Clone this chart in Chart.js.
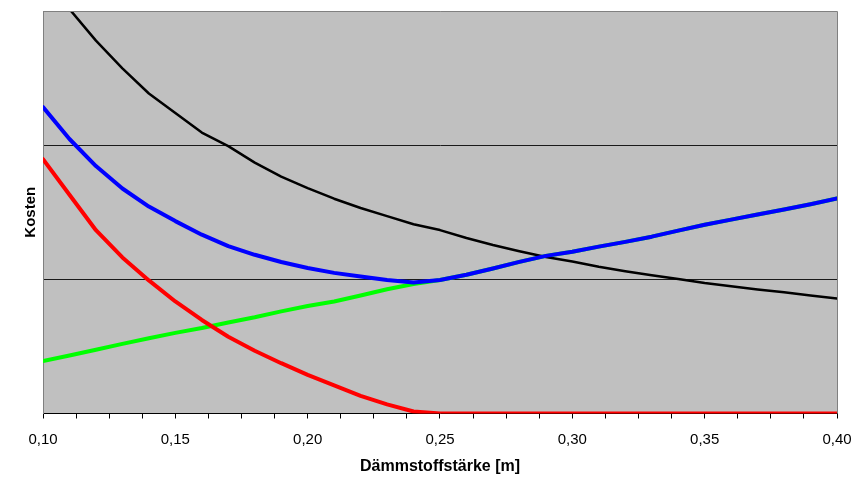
<!DOCTYPE html>
<html>
<head>
<meta charset="utf-8">
<script src="https://cdn.jsdelivr.net/npm/chart.js@4"></script>
<style>
  html, body { margin: 0; padding: 0; background: #fff; }
  #wrap { width: 864px; height: 480px; }
</style>
</head>
<body>
<div id="wrap"><canvas id="chart" width="864" height="480"></canvas></div>
<script>
// Dämmstoffstärke [m]
const xValues = [0.10, 0.11, 0.12, 0.13, 0.14, 0.15, 0.16, 0.17, 0.18, 0.19, 0.20,
  0.21, 0.22, 0.23, 0.24, 0.25, 0.26, 0.27, 0.28, 0.29, 0.30,
  0.31, 0.32, 0.33, 0.34, 0.35, 0.36, 0.37, 0.38, 0.39, 0.40];

const blueCost = [2.284, 2.046, 1.844, 1.677, 1.542, 1.434, 1.333, 1.248, 1.183, 1.129, 1.084,
  1.048, 1.021, 0.995, 0.976, 0.995, 1.034, 1.081, 1.130, 1.175, 1.205,
  1.244, 1.279, 1.318, 1.363, 1.407, 1.445, 1.483, 1.520, 1.560, 1.602];

const blackCost = [3.30, 3.014, 2.779, 2.573, 2.385, 2.239, 2.094, 1.993, 1.870, 1.766, 1.680,
  1.601, 1.532, 1.471, 1.411, 1.367, 1.308, 1.256, 1.209, 1.166, 1.133,
  1.094, 1.061, 1.031, 1.002, 0.972, 0.949, 0.925, 0.903, 0.880, 0.857];

const redCost = [1.896, 1.630, 1.366, 1.163, 0.992, 0.835, 0.697, 0.572, 0.468, 0.375, 0.288,
  0.210, 0.131, 0.068, 0.015, 0, 0, 0, 0, 0, 0,
  0, 0, 0, 0, 0, 0, 0, 0, 0, 0];

const greenCost = [0.391, 0.432, 0.475, 0.519, 0.561, 0.601, 0.637, 0.678, 0.717, 0.761, 0.801,
  0.835, 0.879, 0.926, 0.965, 0.995, 1.034, 1.081, 1.130, 1.175, 1.205,
  1.244, 1.279, 1.318, 1.363, 1.407, 1.445, 1.483, 1.520, 1.560, 1.602];

const xTickLabels = ['0,10', '0,15', '0,20', '0,25', '0,30', '0,35', '0,40'];
const xMinorStep = 0.0125;

function pts(ys) {
  return xValues.map((x, i) => ({ x: x, y: ys[i] }));
}

// grauer Plotbereich + Rahmen oben/rechts
const plotArea = {
  id: 'plotArea',
  beforeDraw(chart) {
    const { ctx, chartArea: a } = chart;
    ctx.save();
    ctx.fillStyle = '#C0C0C0';
    ctx.fillRect(a.left, a.top, a.right - a.left, a.bottom - a.top);
    ctx.restore();
  },
  afterDraw(chart) {
    const { ctx, chartArea: a } = chart;
    ctx.save();
    ctx.strokeStyle = '#808080';
    ctx.lineWidth = 1;
    ctx.beginPath();
    ctx.moveTo(a.left, a.top + 0.5);
    ctx.lineTo(a.right + 0.5, a.top + 0.5);
    ctx.lineTo(a.right + 0.5, a.bottom);
    ctx.stroke();
    ctx.restore();
  }
};

const line = (data, color, width) => ({
  data: pts(data),
  borderColor: color,
  borderWidth: width,
  pointRadius: 0,
  tension: 0,
  borderCapStyle: 'round',
  borderJoinStyle: 'round',
  fill: false
});

new Chart(document.getElementById('chart'), {
  type: 'line',
  data: {
    datasets: [
      line(blueCost, '#0000FF', 4),
      Object.assign(line(blackCost, '#000000', 2.5), { clip: 0 }),
      line(redCost, '#FF0000', 4),
      line(greenCost, '#00FF00', 4)
    ]
  },
  options: {
    responsive: false,
    animation: false,
    layout: { padding: { top: 11, right: 27, bottom: 0, left: 0 } },
    plugins: { legend: { display: false }, tooltip: { enabled: false } },
    scales: {
      x: {
        type: 'linear',
        min: 0.10,
        max: 0.40,
        afterFit(scale) { scale.height = 66.5; },
        afterBuildTicks(scale) {
          const t = [];
          for (let i = 0; i <= 24; i++) t.push({ value: 0.10 + i * xMinorStep });
          scale.ticks = t;
        },
        border: { display: true, color: '#000000', width: 1 },
        grid: {
          drawOnChartArea: false,
          drawTicks: true,
          tickLength: 5,
          tickColor: '#000000'
        },
        ticks: {
          autoSkip: false,
          maxRotation: 0,
          padding: 12,
          color: '#000000',
          font: { family: 'Liberation Sans, Arial, sans-serif', size: 15 },
          callback(v, i) { return i % 4 === 0 ? xTickLabels[i / 4] : ''; }
        },
        title: {
          display: true,
          text: 'Dämmstoffstärke [m]',
          color: '#000000',
          padding: { top: 0, bottom: 4 },
          font: { family: 'Liberation Sans, Arial, sans-serif', size: 16, weight: 'bold' }
        }
      },
      y: {
        min: 0,
        max: 3,
        afterFit(scale) { scale.width = 43; },
        border: { display: true, color: '#808080', width: 1 },
        grid: {
          drawTicks: false,
          lineWidth: 1,
          color(c) {
            const v = c.tick.value;
            return (v === 1 || v === 2) ? '#1a1a1a' : 'rgba(0,0,0,0)';
          }
        },
        ticks: { display: false, stepSize: 1 },
        title: {
          display: true,
          text: 'Kosten',
          color: '#000000',
          padding: { top: 22, bottom: 0 },
          font: { family: 'Liberation Sans, Arial, sans-serif', size: 15, weight: 'bold' }
        }
      }
    }
  },
  plugins: [plotArea]
});
</script>
</body>
</html>
